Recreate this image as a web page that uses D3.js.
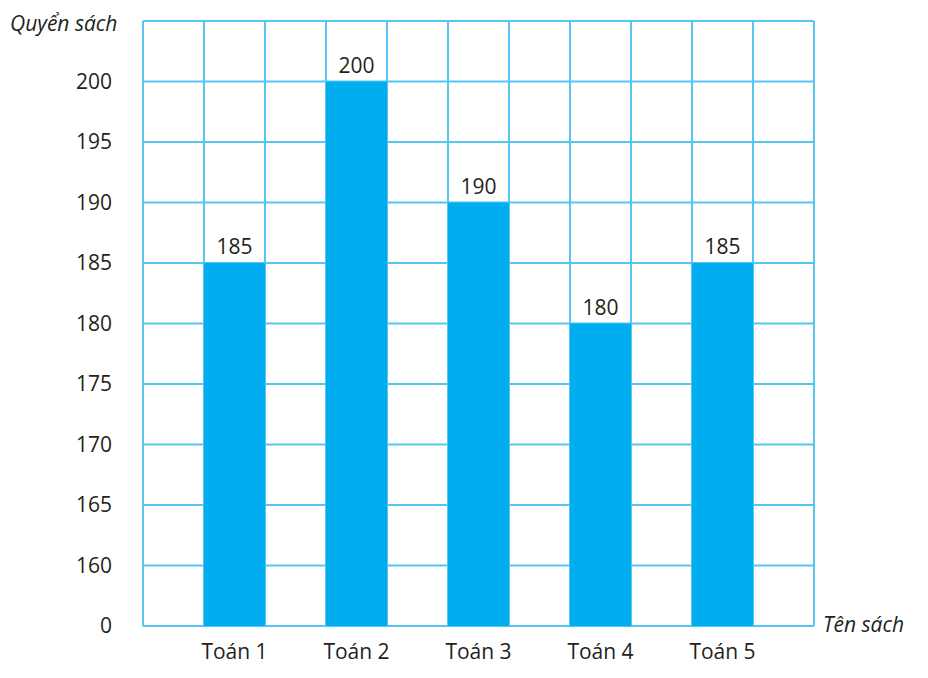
<!DOCTYPE html>
<html>
<head>
<meta charset="utf-8">
<script src="https://cdn.jsdelivr.net/npm/d3@7"></script>
<style>
    body { margin: 0; background: #fff; }
    text { font-family: "Open Sans", "Noto Sans", sans-serif; fill: #231f20; }
</style>
</head>
<body>
<div id="chart"></div>
<script>
// data
const books = ["Toán 1", "Toán 2", "Toán 3", "Toán 4", "Toán 5"];
const counts = [185, 200, 190, 180, 185];
const yTicks = [0, 160, 165, 170, 175, 180, 185, 190, 195, 200];
const yTitle = "Quyển sách";
const xTitle = "Tên sách";

const width = 928, height = 678;
const margin = {top: 21, right: 114, bottom: 52, left: 143};
const innerW = width - margin.left - margin.right;
const innerH = height - margin.top - margin.bottom;

const svg = d3.select("#chart").append("svg")
    .attr("width", width)
    .attr("height", height);

const g = svg.append("g")
    .attr("transform", `translate(${margin.left},${margin.top})`);

// broken axis: 0 sits one grid row below 160, one empty row above 200
const rowH = innerH / 10;
const y = d3.scaleLinear()
    .domain([0, 160, 205])
    .range([innerH, innerH - rowH, 0]);

// 11 grid columns, bars in every second column
const cols = d3.range(11);
const x = d3.scaleBand()
    .domain(cols)
    .range([0, innerW]);

const gridColor = "#55c5f3";

// horizontal grid lines
const hLines = yTicks.concat([205]);
g.selectAll(".hgrid")
    .data(hLines)
    .join("line")
    .attr("class", "hgrid")
    .attr("x1", 0)
    .attr("x2", innerW)
    .attr("y1", d => y(d))
    .attr("y2", d => y(d))
    .attr("stroke", gridColor)
    .attr("stroke-width", 2);

// vertical grid lines
g.selectAll(".vgrid")
    .data(cols.concat([11]))
    .join("line")
    .attr("class", "vgrid")
    .attr("x1", d => d === 11 ? innerW : x(d))
    .attr("x2", d => d === 11 ? innerW : x(d))
    .attr("y1", 0)
    .attr("y2", innerH)
    .attr("stroke", gridColor)
    .attr("stroke-width", 2);

// bars
const barX = i => x(2 * i + 1);
g.selectAll(".bar")
    .data(counts)
    .join("rect")
    .attr("class", "bar")
    .attr("x", (d, i) => barX(i))
    .attr("width", x.bandwidth())
    .attr("y", d => y(d))
    .attr("height", d => innerH - y(d))
    .attr("fill", "#00aeef");

// value labels
g.selectAll(".val")
    .data(counts)
    .join("text")
    .attr("class", "val")
    .attr("x", (d, i) => barX(i) + x.bandwidth() / 2)
    .attr("y", d => y(d) - 9)
    .attr("text-anchor", "middle")
    .style("font-size", "21px")
    .text(d => d);

// y tick labels
g.selectAll(".ytick")
    .data(yTicks)
    .join("text")
    .attr("class", "ytick")
    .attr("x", -31)
    .attr("y", d => y(d) + 7)
    .attr("text-anchor", "end")
    .style("font-size", "21px")
    .text(d => d);

// x labels
g.selectAll(".xlab")
    .data(books)
    .join("text")
    .attr("class", "xlab")
    .attr("x", (d, i) => barX(i) + x.bandwidth() / 2)
    .attr("y", innerH + 33)
    .attr("text-anchor", "middle")
    .style("font-size", "21px")
    .text(d => d);

// axis titles
svg.append("text")
    .attr("x", 10)
    .attr("y", 31)
    .style("font-size", "21px")
    .style("font-style", "italic")
    .text(yTitle);

svg.append("text")
    .attr("x", 823)
    .attr("y", 632)
    .style("font-size", "21px")
    .style("font-style", "italic")
    .text(xTitle);
</script>
</body>
</html>
